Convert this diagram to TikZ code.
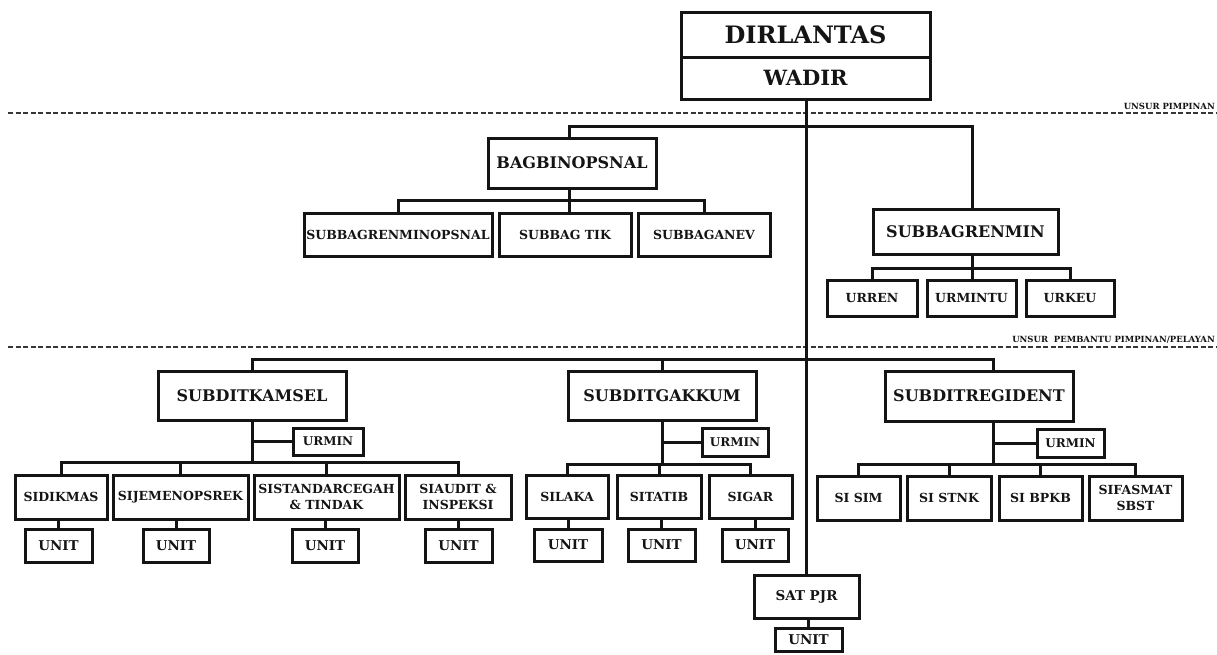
\documentclass[tikz,border=0pt]{standalone}
\usepackage{fontspec}
\setmainfont{DejaVu Serif}
\definecolor{ink}{RGB}{20,20,20}
\tikzset{
  box/.style={draw=ink, line width=3pt, fill=white, inner sep=0pt, outer sep=0pt, align=center, text=ink},
  conn/.style={draw=ink, line width=3pt},
  sepline/.style={draw=ink!85, line width=1.6pt, dash pattern=on 5pt off 2.5pt},
  lab/.style={inner sep=0pt, text=ink, font=\fontsize{8.5}{9}\selectfont\bfseries}
}
\newcommand\obox[7]{%
  \node[box, minimum width={#4-#2}, minimum height={#5-#3},
        font=\fontsize{#6}{16.5}\selectfont\bfseries]
        (#1) at ({(#2+#4)/2},{(#3+#5)/2}) {#7};}
\begin{document}
\begin{tikzpicture}[x=1pt,y=-1pt]
\useasboundingbox (0,0) rectangle (1217,654);
\fill[white] (0,0) rectangle (1217,654);
% separator lines and labels
\coordinate (s1a) at (8,113); \coordinate (s1b) at (1217,113);
\coordinate (s2a) at (8,347); \coordinate (s2b) at (1217,347);
\draw[sepline] (s1a) -- (s1b);
\draw[sepline] (s2a) -- (s2b);
\node[lab, anchor=base east] (lab1) at (1215,109) {UNSUR PIMPINAN};
\node[lab, anchor=base east] (lab2) at (1215,342) {UNSUR\ \ PEMBANTU PIMPINAN/PELAYAN};
% helper coordinates
\coordinate (yA) at (0,126);
\coordinate (yB) at (0,200);
\coordinate (yR) at (0,268);
\coordinate (yL) at (0,359);
\coordinate (yK) at (0,462);
\coordinate (yG) at (0,464);
\coordinate (rgx) at (993,0);
\coordinate (bgx) at (569,0);
\coordinate (rnx) at (972,0);
% connectors
\coordinate (wadirbot) at (806,99);
\coordinate (satpjrtop) at (806,575);
\draw[conn] (wadirbot) -- (satpjrtop);
% nodes
\obox{dir}{681}{12}{930}{57}{24}{DIRLANTAS}
\obox{wadir}{681}{57}{930}{99}{21}{WADIR}
\obox{bagbin}{488}{138}{656}{188}{16}{BAGBINOPSNAL}
\obox{sbrenminops}{304}{213}{492}{256}{12.5}{SUBBAGRENMINOPSNAL}
\obox{sbtik}{499}{213}{631}{256}{12.5}{SUBBAG TIK}
\obox{sbanev}{638}{213}{770}{256}{12.5}{SUBBAGANEV}
\obox{sbrenmin}{873}{209}{1058}{254}{16}{SUBBAGRENMIN}
\obox{urren}{827}{280}{917}{316}{12.5}{URREN}
\obox{urmintu}{927}{280}{1016}{316}{12.5}{URMINTU}
\obox{urkeu}{1026}{280}{1114}{316}{12.5}{URKEU}
% lower
\obox{kamsel}{158}{371}{346}{420}{16}{SUBDITKAMSEL}
\obox{urmink}{293}{428}{363}{455}{12}{URMIN}
\obox{sidikmas}{15}{475}{107}{519}{12.5}{SIDIKMAS}
\obox{sijemen}{113}{475}{248}{519}{12.5}{SIJEMENOPSREK}
\obox{sistandar}{254}{475}{399}{519}{12.5}{SISTANDARCEGAH\\\& TINDAK}
\obox{siaudit}{405}{475}{511}{519}{12.5}{SIAUDIT \&\\INSPEKSI}
\obox{ua}{25}{529}{92}{562}{13.5}{UNIT}
\obox{ub}{143}{529}{209}{562}{13.5}{UNIT}
\obox{uc}{292}{529}{358}{562}{13.5}{UNIT}
\obox{ud}{425}{529}{492}{562}{13.5}{UNIT}
\obox{gakkum}{568}{371}{756}{420}{16}{SUBDITGAKKUM}
\obox{urming}{702}{428}{768}{456}{12}{URMIN}
\obox{silaka}{526}{475}{608}{518}{12.5}{SILAKA}
\obox{sitatib}{617}{475}{701}{518}{12.5}{SITATIB}
\obox{sigar}{709}{475}{792}{518}{12.5}{SIGAR}
\obox{ue}{534}{529}{602}{561}{13.5}{UNIT}
\obox{uf}{628}{529}{695}{561}{13.5}{UNIT}
\obox{ug}{722}{529}{788}{561}{13.5}{UNIT}
\obox{regident}{885}{371}{1073}{421}{16}{SUBDITREGIDENT}
\obox{urminr}{1037}{429}{1104}{457}{12}{URMIN}
\obox{sisim}{817}{476}{900}{520}{12.5}{SI SIM}
\obox{sistnk}{907}{476}{991}{520}{12.5}{SI STNK}
\obox{sibpkb}{999}{476}{1082}{520}{12.5}{SI BPKB}
\obox{sifasmat}{1089}{476}{1182}{520}{12.5}{SIFASMAT\\SBST}
\obox{satpjr}{754}{575}{859}{618}{13.5}{SAT PJR}
\obox{uh}{775}{628}{842}{651}{13.5}{UNIT}
% upper connectors
\draw[conn] (bgx |- bagbin.north) -- (bgx |- yA) -| (rnx |- sbrenmin.north);
\draw[conn] (bgx |- bagbin.south) -- (bgx |- sbtik.north);
\draw[conn] (sbrenminops.north) -- (sbrenminops.north |- yB) -| (sbanev.north);
\draw[conn] (rnx |- sbrenmin.south) -- (rnx |- urmintu.north);
\draw[conn] (urren.north) -- (urren.north |- yR) -| (urkeu.north);
% lower top bar
\draw[conn] (kamsel.north) -- (kamsel.north |- yL) -| (regident.north -| rgx);
\draw[conn] (gakkum.north) -- (gakkum.north |- yL);
% kamsel
\draw[conn] (kamsel.south) -- (kamsel.south |- yK);
\draw[conn] (kamsel.south |- urmink.west) -- (urmink.west);
\draw[conn] (sidikmas.north) -- (sidikmas.north |- yK) -| (siaudit.north);
\draw[conn] (sijemen.north) -- (sijemen.north |- yK);
\draw[conn] (sistandar.north) -- (sistandar.north |- yK);
\draw[conn] (ua.north) -- (ua.north |- sidikmas.south);
\draw[conn] (ub.north) -- (ub.north |- sijemen.south);
\draw[conn] (uc.north) -- (uc.north |- sistandar.south);
\draw[conn] (ud.north) -- (ud.north |- siaudit.south);
% gakkum
\draw[conn] (gakkum.south) -- (gakkum.south |- yG);
\draw[conn] (gakkum.south |- urming.west) -- (urming.west);
\draw[conn] (silaka.north) -- (silaka.north |- yG) -| (sigar.north);
\draw[conn] (sitatib.north) -- (sitatib.north |- yG);
\draw[conn] (ue.north) -- (ue.north |- silaka.south);
\draw[conn] (uf.north) -- (uf.north |- sitatib.south);
\draw[conn] (ug.north) -- (ug.north |- sigar.south);
% regident
\draw[conn] (regident.south -| rgx) -- (rgx |- yG);
\draw[conn] (rgx |- urminr.west) -- (urminr.west);
\draw[conn] (sisim.north) -- (sisim.north |- yG) -| (sifasmat.north);
\draw[conn] (sistnk.north) -- (sistnk.north |- yG);
\draw[conn] (sibpkb.north) -- (sibpkb.north |- yG);
% sat pjr
\draw[conn] (uh.north) -- (uh.north |- satpjr.south);
\end{tikzpicture}
\end{document}
